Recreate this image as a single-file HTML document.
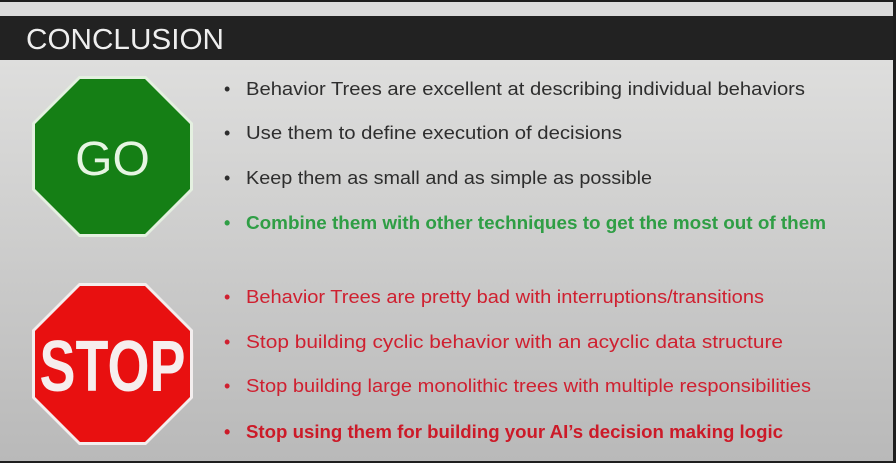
<!DOCTYPE html>
<html><head><meta charset="utf-8"><style>
html,body{margin:0;padding:0;width:896px;height:463px;overflow:hidden;background:#222}
svg{display:block}
</style></head><body>
<svg width="896" height="463" viewBox="0 0 896 463">
<defs>
<linearGradient id="bg" x1="0" y1="0" x2="0" y2="1">
<stop offset="0" stop-color="#dededd"/><stop offset="1" stop-color="#b9b9b9"/>
</linearGradient>
</defs>
<rect x="0" y="0" width="896" height="463" fill="#1e1e1e"/>
<rect x="0" y="2" width="893" height="14" fill="#dcdcdc"/>
<rect x="0" y="16" width="893" height="44" fill="#222"/>
<text x="26" y="49" font-family="Liberation Sans, sans-serif" font-size="29" fill="#eee" textLength="198" lengthAdjust="spacingAndGlyphs">CONCLUSION</text>
<rect x="0" y="60" width="893" height="401" fill="url(#bg)"/>

<g>
<polygon points="79,76 146,76 193,123 193,190 146,237 79,237 32,190 32,123" fill="#e4f0e0"/>
<polygon points="80,79 145,79 190,124 190,189 145,234 80,234 35,189 35,124" fill="#157f15"/>
<text x="112.5" y="175" text-anchor="middle" font-family="Liberation Sans, sans-serif" font-size="48" fill="#e6f5e2">GO</text>
</g>
<g>
<polygon points="79,283 146,283 193,330 193,398 146,445 79,445 32,398 32,330" fill="#f3eeee"/>
<polygon points="80,286 145,286 190,331 190,397 145,442 80,442 35,397 35,331" fill="#e81010"/>
<text x="112.5" y="391" text-anchor="middle" font-family="Liberation Sans Narrow, Liberation Sans, sans-serif" font-weight="bold" font-size="72" fill="#f6eeee" textLength="146" lengthAdjust="spacingAndGlyphs">STOP</text>
</g>

<g font-family="Liberation Sans, sans-serif" font-size="18">
<g fill="#2e2e2e">
<text x="224" y="95">•</text><text x="246" y="95" textLength="559" lengthAdjust="spacingAndGlyphs">Behavior Trees are excellent at describing individual behaviors</text>
<text x="224" y="139">•</text><text x="246" y="139" textLength="376" lengthAdjust="spacingAndGlyphs">Use them to define execution of decisions</text>
<text x="224" y="184">•</text><text x="246" y="184" textLength="406" lengthAdjust="spacingAndGlyphs">Keep them as small and as simple as possible</text>
</g>
<g fill="#2f9e45" font-weight="bold">
<text x="224" y="229">•</text><text x="246" y="229" textLength="580" lengthAdjust="spacingAndGlyphs">Combine them with other techniques to get the most out of them</text>
</g>
<g fill="#cf2030">
<text x="224" y="303">•</text><text x="246" y="303" textLength="518" lengthAdjust="spacingAndGlyphs">Behavior Trees are pretty bad with interruptions/transitions</text>
<text x="224" y="348">•</text><text x="246" y="348" textLength="537" lengthAdjust="spacingAndGlyphs">Stop building cyclic behavior with an acyclic data structure</text>
<text x="224" y="392">•</text><text x="246" y="392" textLength="565" lengthAdjust="spacingAndGlyphs">Stop building large monolithic trees with multiple responsibilities</text>
</g>
<g fill="#cc1a28" font-weight="bold">
<text x="224" y="438">•</text><text x="246" y="438" textLength="537" lengthAdjust="spacingAndGlyphs">Stop using them for building your AI’s decision making logic</text>
</g>
</g>
</svg>
</body></html>
